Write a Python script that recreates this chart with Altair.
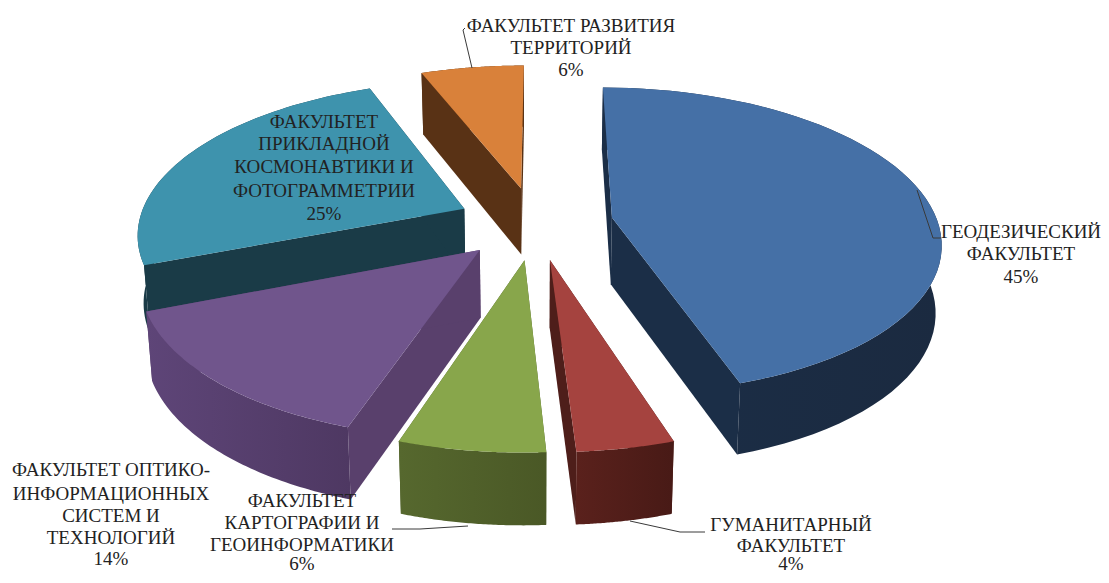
import numpy as np
import pandas as pd
import altair as alt

# --- chart values ---
names = ["Геодезический", "Гуманитарный", "Картографии", "Оптико", "Прикладной", "Развития"]
percent = [45, 4, 6, 14, 25, 6]
labels = [
    ["ГЕОДЕЗИЧЕСКИЙ", "ФАКУЛЬТЕТ", "45%"],
    ["ГУМАНИТАРНЫЙ", "ФАКУЛЬТЕТ", "4%"],
    ["ФАКУЛЬТЕТ", "КАРТОГРАФИИ И", "ГЕОИНФОРМАТИКИ", "6%"],
    ["ФАКУЛЬТЕТ ОПТИКО-", "ИНФОРМАЦИОННЫХ", "СИСТЕМ И", "ТЕХНОЛОГИЙ", "14%"],
    ["ФАКУЛЬТЕТ", "ПРИКЛАДНОЙ", "КОСМОНАВТИКИ И", "ФОТОГРАММЕТРИИ", "25%"],
    ["ФАКУЛЬТЕТ РАЗВИТИЯ", "ТЕРРИТОРИЙ", "6%"],
]

# --- styles ---
top_colors = ["#4570A6", "#A5433F", "#88A64B", "#70558C", "#3E93AD", "#D9813A"]
wall_colors = ["#1B2E47", "#4E1E1A", "#4F5F2A", "#59406C", "#1A3B47", "#593215"]
outer_a = ["#1B2E47", "#5A211C", "#56682E", "#5E4578", "#1A3B47", "#593215"]
outer_b = ["#1B2A40", "#481A16", "#4A5826", "#4E3862", "#1A3B47", "#593215"]
draw_order = [5, 4, 0, 3, 2, 1]

# label placement: centre x, y of each line
label_pos = [
    (1021, [232, 254, 277]),
    (791, [525, 546, 564]),
    (302, [501, 523, 545, 564]),
    (111, [470, 494, 516, 538, 559]),
    (324, [122, 144, 167, 191, 214]),
    (571, [26, 48, 70]),
]
leaders = [
    [(917, 190), (933, 238), (941, 238)],
    [(630, 521), (680, 532), (705, 532)],
    [(468, 526), (420, 529), (392, 529)],
    [(465, 28), (463, 30), (472, 68)],
]

# pie projection
cx, cy, rx, ry, k, explode, depth, start = 535, 223, 326, 151, 0.15, 0.24, 67, 0.2


def project(X, Y, bottom=False):
    X, Y = np.asarray(X, float), np.asarray(Y, float)
    s = 1 / (1 - k * Y)
    x = cx + rx * X * s
    y = cy + ry * Y * s
    if bottom:
        x = cx + (x - cx) * 0.985
        y = y + depth * (1 + 0.07 * Y)
    return x, y


def slice_geometry(a0, a1):
    mid = np.radians((a0 + a1) / 2)
    ox, oy = explode * np.sin(mid), -explode * np.cos(mid)
    th = np.radians(np.linspace(a0, a1, 60))
    rimX, rimY = ox + np.sin(th), oy - np.cos(th)
    return ox, oy, rimX, rimY


def frame(xs, ys):
    return pd.DataFrame({"x": xs, "y": ys, "ord": np.arange(len(xs))})


X_ENC = alt.X("x:Q", axis=None, scale=alt.Scale(domain=[8, 1101], nice=False, zero=False))
Y_ENC = alt.Y("y:Q", axis=None, scale=alt.Scale(domain=[575, 8], nice=False, zero=False))


def poly(df, fill):
    return alt.Chart(df).mark_line(fill=fill, stroke="#00000000", interpolate="linear").encode(
        x=X_ENC, y=Y_ENC, order="ord:Q"
    )


angles = start + np.concatenate([[0], np.cumsum(percent)]) * 3.6
layers = []
for i in draw_order:
    a0, a1 = angles[i], angles[i + 1]
    ox, oy, rX, rY = slice_geometry(a0, a1)
    tx, ty = project(rX, rY)
    bx, by = project(rX, rY, True)
    ax, ay = project([ox], [oy])
    abx, aby = project([ox], [oy], True)
    # start cut wall, end cut wall
    for j in (0, -1):
        layers.append(poly(frame([ax[0], tx[j], bx[j], abx[0]], [ay[0], ty[j], by[j], aby[0]]), wall_colors[i]))
    # outer wall
    grad = alt.Gradient(
        gradient="linear", x1=0, x2=1, y1=0, y2=0,
        stops=[alt.GradientStop(color=outer_a[i], offset=0), alt.GradientStop(color=outer_b[i], offset=1)],
    )
    layers.append(poly(frame(np.r_[tx, bx[::-1]], np.r_[ty, by[::-1]]), grad))
    # top face
    layers.append(poly(frame(np.r_[ax, tx], np.r_[ay, ty]), top_colors[i]))

for pts in leaders:
    d = frame([p[0] for p in pts], [p[1] for p in pts])
    layers.append(alt.Chart(d).mark_line(color="#3a3a3a", strokeWidth=1).encode(x=X_ENC, y=Y_ENC, order="ord:Q"))

rows = []
for lines, (lx, ys) in zip(labels, label_pos):
    for t, y in zip(lines, ys):
        rows.append({"x": lx, "y": y, "t": t})
layers.append(
    alt.Chart(pd.DataFrame(rows))
    .mark_text(font="Liberation Serif", fontSize=19, color="#222222", align="center", baseline="middle")
    .encode(x=X_ENC, y=Y_ENC, text="t:N")
)

chart = (
    alt.layer(*layers)
    .properties(width=1093, height=567, padding=0, background="white",
                autosize=alt.AutoSizeParams(type="none"))
    .configure_view(stroke=None)
)
chart.save("out.html", embed_options={"renderer": "svg", "actions": False})
